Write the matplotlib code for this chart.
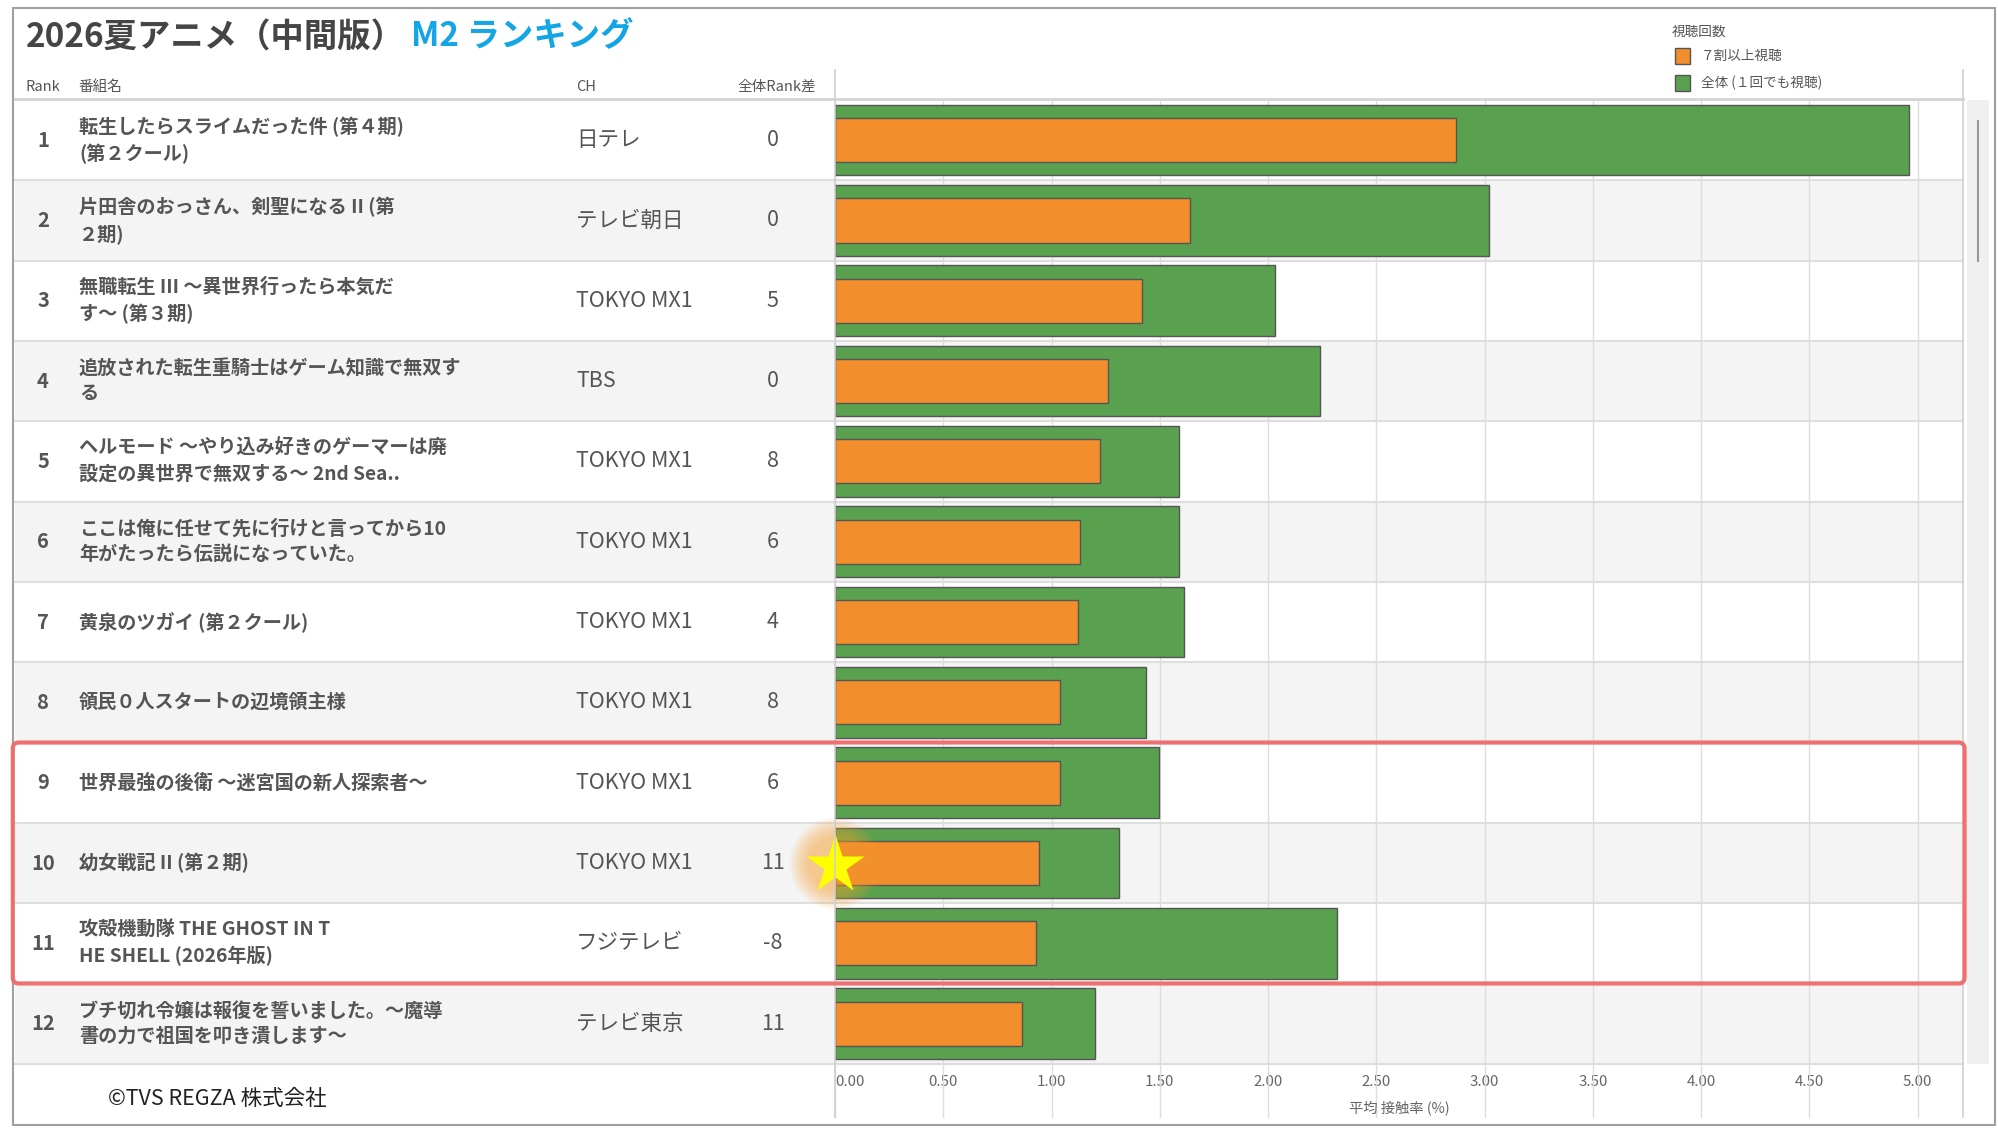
import numpy as np
import matplotlib
matplotlib.use("Agg")
import matplotlib.pyplot as plt
import matplotlib.transforms as mtransforms
from matplotlib.patches import Rectangle, FancyBboxPatch
from matplotlib.lines import Line2D

plt.rcParams['font.family'] = ['Noto Sans CJK JP', 'DejaVu Sans']

# data
ranks = [1, 2, 3, 4, 5, 6, 7, 8, 9, 10, 11, 12]
titles = [
    "転生したらスライムだった件 (第４期)\n(第２クール)",
    "片田舎のおっさん、剣聖になる II (第\n２期)",
    "無職転生 III ～異世界行ったら本気だ\nす～ (第３期)",
    "追放された転生重騎士はゲーム知識で無双す\nる",
    "ヘルモード ～やり込み好きのゲーマーは廃\n設定の異世界で無双する～ 2nd Sea..",
    "ここは俺に任せて先に行けと言ってから10\n年がたったら伝説になっていた。",
    "黄泉のツガイ (第２クール)",
    "領民０人スタートの辺境領主様",
    "世界最強の後衛 ～迷宮国の新人探索者～",
    "幼女戦記 II (第２期)",
    "攻殻機動隊 THE GHOST IN T\nHE SHELL (2026年版)",
    "ブチ切れ令嬢は報復を誓いました。～魔導\n書の力で祖国を叩き潰します～",
]
channels = ["日テレ", "テレビ朝日", "TOKYO MX1", "TBS", "TOKYO MX1", "TOKYO MX1",
            "TOKYO MX1", "TOKYO MX1", "TOKYO MX1", "TOKYO MX1", "フジテレビ", "テレビ東京"]
rank_diff = [0, 0, 5, 0, 8, 6, 4, 8, 6, 11, -8, 11]
total = [4.96, 3.02, 2.03, 2.24, 1.59, 1.59, 1.61, 1.435, 1.495, 1.31, 2.32, 1.20]
over70 = [2.87, 1.64, 1.42, 1.26, 1.225, 1.13, 1.12, 1.04, 1.04, 0.94, 0.93, 0.865]
highlight_rows = (9, 11)
star_rank = 10

ORANGE = '#f28e2b'
GREEN = '#59a14f'
TXT = '#555555'

fig = plt.figure(figsize=(19.99, 11.28), dpi=100)
W, H = 1999, 1128

ax_l, ax_b, ax_w, ax_h = 0.4177, 0.0569, 0.5644, 0.8545
ax = fig.add_axes([ax_l, ax_b, ax_w, ax_h])
ax.patch.set_visible(False)
ax.set_xlim(0, 5.21)
ax.set_ylim(12.5, 0.5)
for s in ax.spines.values():
    s.set_visible(False)
ax.set_yticks([])
ax.set_axisbelow(True)
ax.grid(axis='x', color='#dddddd', lw=1)

ticks = np.arange(0, 5.01, 0.5)
ax.set_xticks(ticks)
ax.set_xticklabels(["%.2f" % t for t in ticks], fontsize=10.8, color='#666666')
ax.tick_params(axis='x', length=0, pad=8)
ax.get_xticklabels()[0].set_horizontalalignment('left')

trans = mtransforms.blended_transform_factory(fig.transFigure, ax.transData)
trans_x = mtransforms.blended_transform_factory(ax.transData, fig.transFigure)

# row backgrounds and separators
for r in ranks:
    if r % 2 == 0:
        ax.add_patch(Rectangle((0.0077, r - 0.5), 0.9821 - 0.0077, 1.0, transform=trans,
                               facecolor='#f4f4f4', edgecolor='none', zorder=0.1, clip_on=False))
    ax.add_line(Line2D([0.0077, 0.9821], [r + 0.5, r + 0.5], transform=trans,
                       color='#dedede', lw=1.5, zorder=0.2, clip_on=False))

# bars
ax.barh(ranks, total, height=0.88, color=GREEN, edgecolor='#555555', lw=1, zorder=2)
ax.barh(ranks, over70, height=0.55, color=ORANGE, edgecolor='#555555', lw=1, zorder=3)

# table text
for r, name, ch, d in zip(ranks, titles, channels, rank_diff):
    ax.text(0.0215, r, str(r), transform=trans, ha='center', va='center', fontsize=14.5,
            fontweight='bold', color=TXT, clip_on=False)
    ax.text(0.0395, r, name, transform=trans, ha='left', va='center', fontsize=13.8,
            fontweight='bold', color=TXT, linespacing=1.42, clip_on=False)
    ax.text(0.2883, r, ch, transform=trans, ha='left', va='center', fontsize=15.5,
            color=TXT, clip_on=False)
    ax.text(0.3865, r, str(d), transform=trans, ha='center', va='center', fontsize=15.5,
            color=TXT, clip_on=False)

# star marker with soft glow
for ms in np.arange(66, 38, -3):
    ax.plot(0, star_rank, 'o', ms=ms, color='#f7a030', alpha=0.065, mec='none', zorder=5,
            clip_on=False)
ax.plot(0, star_rank + 0.03, '*', ms=44, color='#ffff00', mec='none', zorder=6, clip_on=False)

# header
hy = 1 - 68 / 885
for x, t, ha in [(0.01276, "Rank", 'left'), (0.0395, "番組名", 'left'),
                 (0.2883, "CH", 'left'), (0.4082, "全体Rank差", 'right')]:
    fig.text(x, hy, t, ha=ha, va='center', fontsize=10.5, color=TXT)
fig.add_artist(Line2D([0.0077, 0.9821], [1 - 77.5 / 885] * 2, color='#d4d4d4', lw=2))

# vertical lines in header/footer areas
top_y = 1 - 55 / 885
foot_y = 1 - 876 / 885
for t in ticks:
    fig.add_artist(Line2D([t, t], [foot_y, ax_b], transform=trans_x, color='#dddddd', lw=1))
for xv in [0, 5.21]:
    fig.add_artist(Line2D([xv, xv], [foot_y, top_y], transform=trans_x, color='#d0d0d0', lw=1.2))

fig.text(ax_l + ax_w / 2, 1 - 869 / 885, "平均 接触率 (%)", ha='center', va='center',
         fontsize=10.3, color='#666666')

# scrollbar
fig.add_artist(Rectangle((0.984, ax_b), 0.0108, ax_h, transform=fig.transFigure,
                         facecolor='#f0f0f0', edgecolor='none'))
fig.add_artist(Line2D([0.9895, 0.9895], [1 - 95 / 885, 1 - 205 / 885], color='#999999', lw=1.5))

# title
fig.text(0.0128, 1 - 29 / 885, "2026夏アニメ（中間版）", ha='left', va='center',
         fontsize=24, fontweight='bold', color='#454545')
fig.text(0.2054, 1 - 29 / 885, "M2 ランキング", ha='left', va='center',
         fontsize=24, fontweight='bold', color='#14a5e6')

# legend
fig.text(0.8361, 1 - 25 / 885, "視聴回数", ha='left', va='center', fontsize=9.8, color=TXT)
for yc, col, lab in [(44, ORANGE, "７割以上視聴"), (65, GREEN, "全体 (１回でも視聴)")]:
    fig.add_artist(Rectangle((0.838, 1 - (yc + 6.5) / 885), 0.00765, 13 / 885,
                             transform=fig.transFigure, facecolor=col, edgecolor='#555555', lw=1))
    fig.text(0.8508, 1 - yc / 885, lab, ha='left', va='center', fontsize=9.8, color=TXT)

# copyright
fig.text(85 / 1568, 1 - 862 / 885, "©TVS REGZA 株式会社", ha='left', va='center',
         fontsize=15.5, color='#222222')

# outer frame
fig.add_artist(Rectangle((0.0064, 0.0023), 0.9916, 0.9909, transform=fig.transFigure,
                         facecolor='none', edgecolor='#a0a0a0', lw=1.5))

# highlight box (pixel coords)
def row_to_px(yv):
    return (ax_b + ax_h * (12.5 - yv) / 12) * H

y0 = row_to_px(highlight_rows[1] + 0.5)
y1 = row_to_px(highlight_rows[0] - 0.5)
x0, x1 = 0.0064 * W, 0.9828 * W
box = FancyBboxPatch((x0, y0), x1 - x0, y1 - y0, boxstyle="round,pad=0,rounding_size=6",
                     transform=mtransforms.IdentityTransform(), facecolor='none',
                     edgecolor='#f06a6a', lw=3, alpha=0.95, zorder=10)
fig.add_artist(box)

fig.savefig("out.png", dpi=100)
